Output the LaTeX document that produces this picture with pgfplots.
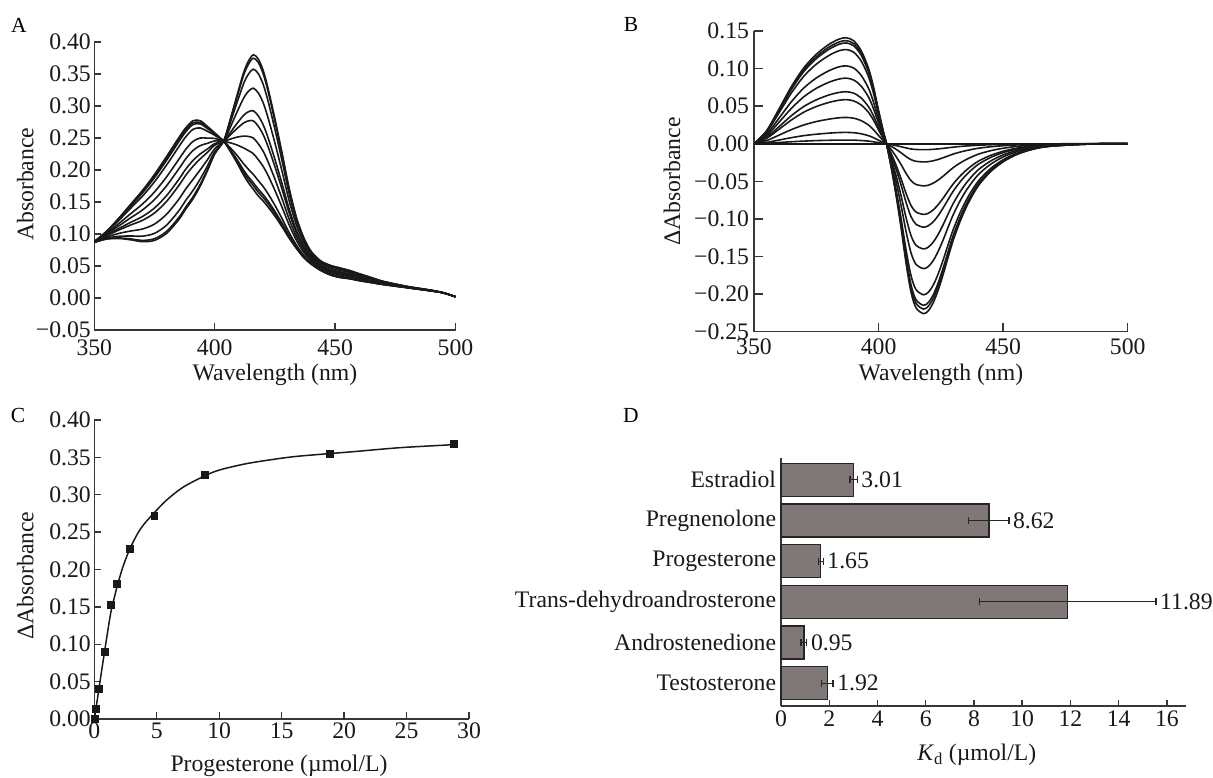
\documentclass[border=0pt]{standalone}
\usepackage{fontspec}
\setmainfont{Liberation Serif}
\usepackage{pgfplots}
\usepackage{pgfplotstable}
\pgfplotsset{compat=1.18}
\definecolor{barfill}{RGB}{128,120,118}
\definecolor{axisgray}{RGB}{55,55,55}
\definecolor{curve}{RGB}{25,25,25}

\pgfplotstableread{
l a1 a2 a3 a4 a5 a6 a7 a8 a9 a10 a11 a12
350 0.087 0.087 0.087 0.087 0.087 0.087 0.088 0.088 0.088 0.088 0.088 0.088
355 0.0920 0.0923 0.0933 0.0950 0.0970 0.0979 0.0994 0.1008 0.1027 0.1034 0.1037 0.1040
360 0.0930 0.0938 0.0963 0.1007 0.1059 0.1082 0.1122 0.1158 0.1206 0.1225 0.1232 0.1240
365 0.0910 0.0924 0.0969 0.1046 0.1139 0.1180 0.1250 0.1314 0.1399 0.1433 0.1445 0.1460
370 0.0880 0.0900 0.0966 0.1078 0.1213 0.1273 0.1375 0.1468 0.1591 0.1641 0.1658 0.1680
375 0.0900 0.0926 0.1010 0.1155 0.1328 0.1406 0.1538 0.1657 0.1816 0.1880 0.1902 0.1930
380 0.1010 0.1040 0.1138 0.1308 0.1509 0.1599 0.1753 0.1892 0.2077 0.2151 0.2178 0.2210
385 0.1220 0.1252 0.1357 0.1537 0.1752 0.1848 0.2012 0.2161 0.2358 0.2437 0.2465 0.2500
388 0.1390 0.1422 0.1526 0.1705 0.1918 0.2014 0.2176 0.2323 0.2519 0.2598 0.2626 0.2660
391 0.1550 0.1581 0.1681 0.1853 0.2058 0.2149 0.2305 0.2447 0.2635 0.2710 0.2737 0.2770
394 0.1750 0.1776 0.1859 0.2003 0.2174 0.2251 0.2381 0.2500 0.2657 0.2720 0.2742 0.2770
397 0.1990 0.2007 0.2064 0.2161 0.2277 0.2329 0.2417 0.2497 0.2603 0.2646 0.2661 0.2680
400 0.2250 0.2258 0.2285 0.2332 0.2387 0.2412 0.2454 0.2493 0.2543 0.2564 0.2571 0.2580
403.7 0.245 0.245 0.245 0.245 0.245 0.245 0.245 0.245 0.245 0.245 0.245 0.245
406 0.2730 0.2720 0.2686 0.2628 0.2559 0.2529 0.2476 0.2429 0.2366 0.2340 0.2331 0.2320
409 0.3130 0.3105 0.3023 0.2882 0.2714 0.2639 0.2511 0.2395 0.2241 0.2179 0.2157 0.2130
412 0.3520 0.3480 0.3349 0.3123 0.2854 0.2734 0.2530 0.2344 0.2098 0.1998 0.1963 0.1920
414 0.3700 0.3652 0.3497 0.3229 0.2910 0.2767 0.2524 0.2303 0.2011 0.1893 0.1851 0.1800
416 0.3800 0.3747 0.3575 0.3279 0.2926 0.2769 0.2500 0.2256 0.1933 0.1803 0.1757 0.1700
418 0.3740 0.3686 0.3511 0.3209 0.2850 0.2689 0.2415 0.2167 0.1838 0.1705 0.1658 0.1600
420 0.3570 0.3519 0.3351 0.3062 0.2717 0.2563 0.2301 0.2063 0.1748 0.1620 0.1575 0.1520
422 0.3300 0.3253 0.3100 0.2836 0.2522 0.2382 0.2142 0.1926 0.1638 0.1522 0.1480 0.1430
425 0.2800 0.2762 0.2637 0.2423 0.2168 0.2054 0.1859 0.1683 0.1449 0.1354 0.1321 0.1280
428 0.2260 0.2231 0.2137 0.1975 0.1782 0.1695 0.1548 0.1415 0.1238 0.1166 0.1141 0.1110
431 0.1700 0.1681 0.1618 0.1509 0.1380 0.1322 0.1223 0.1134 0.1015 0.0968 0.0951 0.0930
434 0.1250 0.1238 0.1199 0.1131 0.1050 0.1014 0.0953 0.0897 0.0823 0.0794 0.0783 0.0770
437 0.0940 0.0932 0.0907 0.0863 0.0811 0.0788 0.0748 0.0712 0.0664 0.0645 0.0638 0.0630
440 0.0730 0.0725 0.0709 0.0680 0.0647 0.0632 0.0606 0.0583 0.0552 0.0540 0.0535 0.0530
444 0.0580 0.0576 0.0564 0.0543 0.0518 0.0506 0.0487 0.0470 0.0447 0.0437 0.0434 0.0430
448 0.0510 0.0506 0.0494 0.0473 0.0448 0.0436 0.0417 0.0400 0.0377 0.0367 0.0364 0.0360
452 0.0470 0.0466 0.0454 0.0433 0.0408 0.0396 0.0377 0.0360 0.0337 0.0327 0.0324 0.0320
456 0.0430 0.0427 0.0416 0.0398 0.0376 0.0366 0.0350 0.0334 0.0314 0.0306 0.0304 0.0300
460 0.0380 0.0377 0.0368 0.0353 0.0334 0.0326 0.0312 0.0299 0.0282 0.0275 0.0273 0.0270
465 0.0320 0.0318 0.0311 0.0300 0.0287 0.0281 0.0270 0.0261 0.0249 0.0244 0.0242 0.0240
470 0.0260 0.0259 0.0255 0.0248 0.0239 0.0235 0.0229 0.0223 0.0216 0.0212 0.0211 0.0210
480 0.0180 0.0180 0.0178 0.0175 0.0172 0.0170 0.0168 0.0165 0.0162 0.0161 0.0161 0.0160
490 0.0120 0.0120 0.0119 0.0118 0.0116 0.0115 0.0114 0.0113 0.0111 0.0110 0.0110 0.0110
495 0.0080 0.0080 0.0080 0.0080 0.0080 0.0080 0.0080 0.0080 0.0080 0.0080 0.0080 0.0080
500 0.0020 0.0020 0.0020 0.0020 0.0020 0.0020 0.0020 0.0020 0.0020 0.0020 0.0020 0.0020
}\tabA

\pgfplotstableread{
l b1 b2 b3 b4 b5 b6 b7 b8 b9 b10 b11
350 0 0 0 0 0 0 0 0 0 0 0
355 0.0006 0.0018 0.0042 0.0071 0.0083 0.0105 0.0125 0.0151 0.0162 0.0165 0.0170
360 0.0016 0.0049 0.0114 0.0191 0.0226 0.0285 0.0338 0.0409 0.0437 0.0448 0.0460
365 0.0027 0.0081 0.0188 0.0316 0.0373 0.0470 0.0559 0.0676 0.0723 0.0739 0.0760
370 0.0035 0.0108 0.0250 0.0420 0.0496 0.0625 0.0742 0.0898 0.0961 0.0983 0.1010
375 0.0042 0.0127 0.0295 0.0495 0.0584 0.0737 0.0875 0.1058 0.1132 0.1158 0.1190
380 0.0046 0.0141 0.0327 0.0549 0.0648 0.0817 0.0970 0.1173 0.1255 0.1284 0.1320
384 0.0049 0.0149 0.0345 0.0578 0.0682 0.0860 0.1022 0.1236 0.1322 0.1352 0.1390
387 0.0049 0.0151 0.0350 0.0587 0.0692 0.0873 0.1036 0.1253 0.1341 0.1372 0.1410
390 0.0048 0.0147 0.0340 0.0570 0.0673 0.0848 0.1007 0.1218 0.1303 0.1333 0.1370
393 0.0043 0.0133 0.0308 0.0516 0.0609 0.0768 0.0911 0.1102 0.1179 0.1207 0.1240
396 0.0035 0.0107 0.0248 0.0416 0.0491 0.0619 0.0735 0.0889 0.0951 0.0973 0.1000
398 0.0026 0.0080 0.0186 0.0312 0.0368 0.0464 0.0551 0.0667 0.0713 0.0730 0.0750
400 0.0015 0.0047 0.0109 0.0183 0.0216 0.0272 0.0323 0.0391 0.0418 0.0428 0.0440
402 0.0005 0.0016 0.0037 0.0062 0.0074 0.0093 0.0110 0.0133 0.0143 0.0146 0.0150
403.2 0 0 0 0 0 0 0 0 0 0 0
405 -0.0011 -0.0032 -0.0074 -0.0125 -0.0147 -0.0186 -0.0221 -0.0267 -0.0285 -0.0292 -0.0300
407 -0.0024 -0.0073 -0.0169 -0.0283 -0.0334 -0.0421 -0.0500 -0.0605 -0.0647 -0.0662 -0.0680
409 -0.0039 -0.0119 -0.0275 -0.0462 -0.0545 -0.0687 -0.0816 -0.0987 -0.1056 -0.1080 -0.1110
411 -0.0055 -0.0169 -0.0392 -0.0657 -0.0776 -0.0978 -0.1161 -0.1405 -0.1503 -0.1537 -0.1580
413 -0.0069 -0.0211 -0.0489 -0.0820 -0.0967 -0.1219 -0.1448 -0.1751 -0.1873 -0.1917 -0.1970
415 -0.0076 -0.0233 -0.0541 -0.0907 -0.1070 -0.1349 -0.1602 -0.1938 -0.2073 -0.2121 -0.2180
418 -0.0079 -0.0242 -0.0560 -0.0940 -0.1110 -0.1399 -0.1661 -0.2009 -0.2149 -0.2199 -0.2260
420 -0.0078 -0.0238 -0.0551 -0.0924 -0.1090 -0.1374 -0.1632 -0.1974 -0.2111 -0.2160 -0.2220
422 -0.0074 -0.0226 -0.0523 -0.0878 -0.1036 -0.1306 -0.1551 -0.1876 -0.2007 -0.2053 -0.2110
424 -0.0068 -0.0208 -0.0481 -0.0807 -0.0953 -0.1201 -0.1426 -0.1725 -0.1845 -0.1888 -0.1940
426 -0.0061 -0.0185 -0.0429 -0.0720 -0.0849 -0.1071 -0.1272 -0.1538 -0.1645 -0.1683 -0.1730
428 -0.0053 -0.0161 -0.0372 -0.0624 -0.0737 -0.0929 -0.1103 -0.1334 -0.1427 -0.1460 -0.1500
430 -0.0045 -0.0137 -0.0317 -0.0532 -0.0628 -0.0792 -0.0941 -0.1138 -0.1217 -0.1245 -0.1280
433 -0.0035 -0.0108 -0.0250 -0.0420 -0.0496 -0.0625 -0.0742 -0.0898 -0.0961 -0.0983 -0.1010
436 -0.0028 -0.0085 -0.0196 -0.0329 -0.0388 -0.0489 -0.0581 -0.0702 -0.0751 -0.0769 -0.0790
440 -0.0020 -0.0060 -0.0139 -0.0233 -0.0275 -0.0347 -0.0412 -0.0498 -0.0533 -0.0545 -0.0560
445 -0.0013 -0.0040 -0.0092 -0.0154 -0.0182 -0.0229 -0.0272 -0.0329 -0.0352 -0.0360 -0.0370
450 -0.0008 -0.0026 -0.0060 -0.0100 -0.0118 -0.0149 -0.0176 -0.0213 -0.0228 -0.0234 -0.0240
455 -0.0005 -0.0016 -0.0037 -0.0062 -0.0074 -0.0093 -0.0110 -0.0133 -0.0143 -0.0146 -0.0150
460 -0.0003 -0.0010 -0.0022 -0.0037 -0.0044 -0.0056 -0.0066 -0.0080 -0.0086 -0.0088 -0.0090
465 -0.0002 -0.0005 -0.0012 -0.0021 -0.0025 -0.0031 -0.0037 -0.0044 -0.0048 -0.0049 -0.0050
470 -0.0001 -0.0003 -0.0007 -0.0012 -0.0015 -0.0019 -0.0022 -0.0027 -0.0029 -0.0029 -0.0030
480 0 -0.0001 -0.0002 -0.0004 -0.0005 -0.0006 -0.0007 -0.0009 -0.0010 -0.0010 -0.0010
490 0 0 0 0 0 0 0 0 0 0 0
500 0 0 0 0 0 0 0 0 0 0 0
}\tabB

\pgfplotstableread{
y x err xe lab
0 1.92 0.24 2.16 1.92
1 0.95 0.12 1.07 0.95
2 11.89 3.66 15.55 11.89
3 1.65 0.10 1.75 1.65
4 8.62 0.83 9.45 8.62
5 3.01 0.15 3.16 3.01
}\tabD

\pgfplotsset{
  panel/.style={
    scale only axis,
    axis lines*=left,
    tick align=inside,
    axis line style={line width=1.4pt, axisgray},
    tick style={line width=1.4pt, axisgray},
    tick label style={font=\fontsize{23.7}{28}\selectfont, text=black!90},
    label style={font=\fontsize{23.7}{28}\selectfont, text=black!90},
    /pgf/number format/assume math mode=true,
    enlargelimits=false,
  },
}

\begin{document}
\begin{tikzpicture}
\path[use as bounding box] (0pt,0pt) rectangle (1213pt,778pt);

% Panel A
\begin{axis}[panel, at={(94.3pt,448pt)}, anchor=south west,
  width=361.2pt, height=288pt,
  xmin=350, xmax=500, ymin=-0.05, ymax=0.40,
  xtick={350,400,450,500}, xticklabels={350,400,450,500},
  ytick={-0.05,0,0.05,0.1,0.15,0.2,0.25,0.3,0.35,0.4},
  yticklabels={−0.05,0.00,0.05,0.10,0.15,0.20,0.25,0.30,0.35,0.40},
  major tick length=7pt,
  xticklabel style={yshift=-6pt},
  xlabel={Wavelength (nm)}, ylabel={Absorbance},
  xlabel style={at={(axis description cs:0.5,0)}, anchor=base, yshift=-51pt},
  ylabel style={at={(axis description cs:-0.1689,0.506)}, anchor=base},
]
\pgfplotsinvokeforeach{1,...,12}{
  \addplot[curve, line width=1.6pt, smooth] table[x=l, y=a#1]{\tabA};
}
\end{axis}

% Panel B
\begin{axis}[panel, at={(754pt,446.3pt)}, anchor=south west,
  width=373.7pt, height=300.7pt,
  xmin=350, xmax=500, ymin=-0.25, ymax=0.15,
  xtick={350,400,450,500}, xticklabels={350,400,450,500},
  ytick={-0.25,-0.2,-0.15,-0.1,-0.05,0,0.05,0.1,0.15},
  yticklabels={−0.25,−0.20,−0.15,−0.10,−0.05,0.00,0.05,0.10,0.15},
  major tick length=9pt,
  xticklabel style={yshift=-4pt},
  yticklabel style={xshift=-1.5pt},
  xlabel={Wavelength (nm)}, ylabel={ΔAbsorbance},
  xlabel style={at={(axis description cs:0.5,0)}, anchor=base, yshift=-49pt},
  ylabel style={at={(axis description cs:-0.198,0.5)}, anchor=base},
]
\addplot[curve, line width=1.6pt] coordinates {(350,0) (500,0)};
\pgfplotsinvokeforeach{1,...,11}{
  \addplot[curve, line width=1.6pt, smooth] table[x=l, y=b#1]{\tabB};
}
\end{axis}

% Panel C
\begin{axis}[panel, at={(94.3pt,59pt)}, anchor=south west,
  width=374.7pt, height=299pt,
  xmin=0, xmax=30, ymin=0, ymax=0.40, clip=false,
  xtick={0,5,10,15,20,25,30}, xticklabels={0,5,10,15,20,25,30},
  ytick={0,0.05,0.1,0.15,0.2,0.25,0.3,0.35,0.4},
  yticklabels={0.00,0.05,0.10,0.15,0.20,0.25,0.30,0.35,0.40},
  major tick length=7pt,
  xlabel={Progesterone (µmol/L)}, ylabel={ΔAbsorbance},
  xlabel style={at={(axis description cs:0.493,0)}, anchor=base, yshift=-53pt},
  ylabel style={at={(axis description cs:-0.1628,0.479)}, anchor=base},
]
\addplot[curve, line width=1.5pt, smooth] coordinates {
(0,0) (0.125,0.013) (0.35,0.038) (0.6,0.066) (0.83,0.091) (1.1,0.120)
(1.34,0.144) (1.6,0.162) (1.82,0.177) (2.3,0.204) (2.86,0.228) (3.5,0.249)
(4.0,0.261) (4.8,0.276) (5.8,0.293) (7.1,0.310) (8.8,0.325) (10,0.333)
(12,0.341) (13.8,0.346) (16,0.351) (18.8,0.355) (21,0.358) (24.5,0.363) (28.8,0.367)};
\addplot[only marks, mark=square*, mark size=3.4pt, curve] coordinates {
(0,0) (0.125,0.014) (0.35,0.040) (0.83,0.090) (1.34,0.1525) (1.82,0.181)
(2.86,0.228) (4.8,0.272) (8.84,0.327) (18.82,0.355) (28.78,0.368)};
\end{axis}

% Panel D
\begin{axis}[panel, at={(781pt,72pt)}, anchor=south west,
  width=405.4pt, height=247.7pt,
  xmin=0, xmax=16.81, ymin=-0.56, ymax=5.53, clip=false,
  xtick={0,2,4,6,8,10,12,14,16}, xticklabels={0,2,4,6,8,10,12,14,16},
  ytick={0,1,2,3,4,5},
  yticklabels={Testosterone,Androstenedione,Trans-dehydroandrosterone,Progesterone,Pregnenolone,Estradiol},
  y tick style={draw=none},
  major tick length=6pt,
  xticklabel style={yshift=-1pt},
  yticklabel style={xshift=-1.4pt},
  xlabel={\textit{K}\textsubscript{d} (µmol/L)},
  xlabel style={at={(axis description cs:0.483,0)}, anchor=base, yshift=-55pt},
]
\addplot[xbar, bar width=33pt, fill=barfill, draw=black!85, line width=1.4pt,
  error bars/.cd, x dir=both, x explicit,
  error mark=|,
  error bar style={line width=1.2pt, black!85},
  error mark options={line width=1.2pt, mark size=3.5pt, black!85}]
  table[x=x, y=y, x error=err]{\tabD};
\addplot[draw=none, mark=none, nodes near coords, point meta=explicit symbolic,
  nodes near coords style={anchor=west, inner sep=0pt, xshift=4pt,
    font=\fontsize{23.7}{28}\selectfont, text=black!90}]
  table[x=xe, y=y, meta=lab]{\tabD};
\end{axis}

\node[font=\fontsize{21.5}{24}\selectfont] at (19pt,753pt) {A};
\node[font=\fontsize{21.5}{24}\selectfont] at (631pt,753pt) {B};
\node[font=\fontsize{21.5}{24}\selectfont] at (18pt,363pt) {C};
\node[font=\fontsize{21.5}{24}\selectfont] at (631pt,363pt) {D};
\end{tikzpicture}
\end{document}
